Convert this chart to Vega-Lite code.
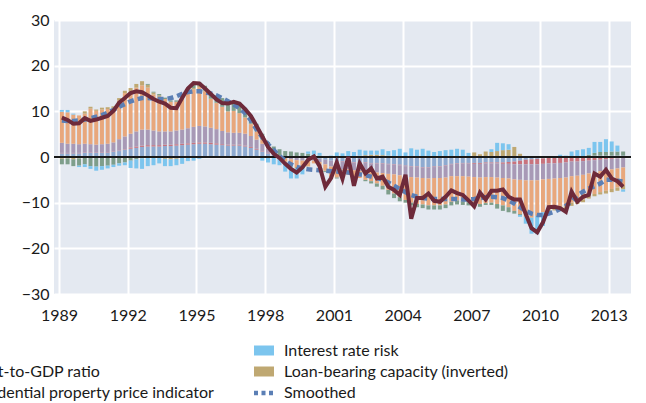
{
"$schema": "https://vega.github.io/schema/vega-lite/v6.json",
"width": 577, "height": 274,
"autosize": {"type": "none"},
"padding": {"left": 54, "top": 20, "right": 15, "bottom": 109},
"background": "white",
"config": {
  "font": "Lato",
  "view": {"fill": "#e4e9f1", "stroke": null},
  "axis": {"labelFont": "Lato", "labelFontSize": 16, "labelColor": "#1a1a1a", "grid": true, "gridColor": "#ffffff", "gridWidth": 2, "domain": false, "ticks": false}
},
"data": {"values": [
{"t":1989.125,"a1":0.8,"a2":0.1,"a3":2.2,"a4":6.8,"a5":-0.4,"a6":-1.2,"a7":0.4,"i":8.6,"s":8.0},
{"t":1989.375,"a1":0.8,"a2":0.1,"a3":2.0,"a4":6.9,"a5":-0.3,"a6":-1.3,"a7":0.5,"i":8.1,"s":7.9},
{"t":1989.625,"a1":0.8,"a2":0.1,"a3":2.0,"a4":6.4,"a5":-0.5,"a6":-1.5,"a7":0.2,"i":7.3,"s":7.9},
{"t":1989.875,"a1":0.8,"a2":0.1,"a3":1.9,"a4":6.3,"a5":-0.3,"a6":-1.6,"a7":-0.3,"i":7.4,"s":8.0},
{"t":1990.125,"a1":0.9,"a2":0.1,"a3":1.9,"a4":6.6,"a5":0.5,"a6":-1.6,"a7":-0.6,"i":8.5,"s":8.2},
{"t":1990.375,"a1":0.9,"a2":0.1,"a3":1.8,"a4":7.8,"a5":0.4,"a6":-2.0,"a7":-0.6,"i":7.9,"s":8.5},
{"t":1990.625,"a1":0.9,"a2":0.1,"a3":1.7,"a4":7.4,"a5":0.3,"a6":-2.1,"a7":-0.9,"i":8.2,"s":8.8},
{"t":1990.875,"a1":1.0,"a2":0.1,"a3":1.7,"a4":7.6,"a5":0.4,"a6":-2.0,"a7":-0.8,"i":8.6,"s":9.2},
{"t":1991.125,"a1":1.0,"a2":0.1,"a3":1.8,"a4":7.6,"a5":0.4,"a6":-1.9,"a7":-0.6,"i":9.0,"s":9.7},
{"t":1991.375,"a1":1.1,"a2":0.1,"a3":2.0,"a4":7.4,"a5":0.5,"a6":-1.7,"a7":-0.5,"i":10.1,"s":10.3},
{"t":1991.625,"a1":1.3,"a2":0.1,"a3":2.5,"a4":8.5,"a5":0.5,"a6":-1.4,"a7":-0.5,"i":11.9,"s":11.0},
{"t":1991.875,"a1":1.6,"a2":0.1,"a3":2.8,"a4":9.5,"a5":0.5,"a6":-1.2,"a7":-0.6,"i":12.9,"s":11.6},
{"t":1992.125,"a1":1.8,"a2":0.3,"a3":3.0,"a4":9.2,"a5":0.8,"a6":-0.8,"a7":-1.6,"i":14.0,"s":12.2},
{"t":1992.375,"a1":2.0,"a2":0.3,"a3":3.3,"a4":9.6,"a5":0.8,"a6":-0.5,"a7":-2.0,"i":14.4,"s":12.6},
{"t":1992.625,"a1":2.2,"a2":0.3,"a3":3.5,"a4":9.7,"a5":0.9,"a6":-0.3,"a7":-2.3,"i":14.2,"s":12.9},
{"t":1992.875,"a1":2.3,"a2":0.3,"a3":3.4,"a4":9.2,"a5":0.6,"a6":0.2,"a7":-2.0,"i":13.5,"s":12.9},
{"t":1993.125,"a1":2.3,"a2":0.3,"a3":3.2,"a4":7.9,"a5":0.4,"a6":0.2,"a7":-1.8,"i":12.7,"s":12.8},
{"t":1993.375,"a1":2.3,"a2":0.3,"a3":3.0,"a4":7.6,"a5":0.3,"a6":0.3,"a7":-1.4,"i":12.1,"s":12.7},
{"t":1993.625,"a1":2.4,"a2":0.3,"a3":2.9,"a4":7.1,"a5":-0.4,"a6":0.3,"a7":-1.6,"i":11.7,"s":12.7},
{"t":1993.875,"a1":2.4,"a2":0.3,"a3":2.9,"a4":6.5,"a5":-0.5,"a6":0.3,"a7":-1.5,"i":10.8,"s":12.9},
{"t":1994.125,"a1":2.5,"a2":0.3,"a3":3.0,"a4":6.3,"a5":-0.4,"a6":0.3,"a7":-1.4,"i":10.7,"s":13.3},
{"t":1994.375,"a1":2.6,"a2":0.3,"a3":3.1,"a4":7.0,"a5":-0.2,"a6":0.4,"a7":-1.3,"i":12.9,"s":13.8},
{"t":1994.625,"a1":2.7,"a2":0.3,"a3":3.3,"a4":7.8,"a5":0.2,"a6":0.6,"a7":-0.9,"i":15.0,"s":14.2},
{"t":1994.875,"a1":2.8,"a2":0.3,"a3":3.5,"a4":8.2,"a5":0.3,"a6":0.7,"a7":-0.8,"i":16.2,"s":14.4},
{"t":1995.125,"a1":2.9,"a2":0.3,"a3":3.6,"a4":8.5,"a5":0.3,"a6":0.8,"a7":-0.4,"i":16.1,"s":14.4},
{"t":1995.375,"a1":2.9,"a2":0.3,"a3":3.5,"a4":7.7,"a5":0.2,"a6":1.0,"a7":-0.2,"i":15.0,"s":14.2},
{"t":1995.625,"a1":2.8,"a2":0.3,"a3":3.3,"a4":6.3,"a5":0.1,"a6":1.2,"a7":-0.1,"i":13.8,"s":13.9},
{"t":1995.875,"a1":2.7,"a2":0.3,"a3":3.1,"a4":5.7,"a5":0.1,"a6":1.6,"a7":-0.2,"i":12.6,"s":13.5},
{"t":1996.125,"a1":2.6,"a2":0.2,"a3":2.9,"a4":5.3,"a5":-0.1,"a6":1.9,"a7":-0.1,"i":11.8,"s":12.9},
{"t":1996.375,"a1":2.5,"a2":0.2,"a3":2.7,"a4":4.6,"a5":-0.1,"a6":2.2,"a7":-0.1,"i":11.7,"s":12.2},
{"t":1996.625,"a1":2.5,"a2":0.2,"a3":2.6,"a4":4.8,"a5":-0.1,"a6":2.0,"a7":-0.1,"i":12.1,"s":11.5},
{"t":1996.875,"a1":2.5,"a2":0.2,"a3":2.6,"a4":4.3,"a5":-0.1,"a6":2.3,"a7":-0.1,"i":11.7,"s":10.7},
{"t":1997.125,"a1":2.3,"a2":0.2,"a3":2.6,"a4":3.5,"a5":0.1,"a6":2.0,"a7":0.1,"i":10.5,"s":9.6},
{"t":1997.375,"a1":2.0,"a2":0.2,"a3":2.4,"a4":2.6,"a5":0.1,"a6":1.8,"a7":0.1,"i":9.0,"s":8.0},
{"t":1997.625,"a1":1.6,"a2":0.2,"a3":2.0,"a4":1.8,"a5":0.1,"a6":1.5,"a7":0.1,"i":6.8,"s":6.0},
{"t":1997.875,"a1":1.2,"a2":0.1,"a3":1.6,"a4":1.0,"a5":0,"a6":1.2,"a7":-0.8,"i":4.5,"s":4.3},
{"t":1998.125,"a1":0.8,"a2":0.1,"a3":1.0,"a4":0.4,"a5":0,"a6":1.0,"a7":-1.2,"i":2.2,"s":2.8},
{"t":1998.375,"a1":0.5,"a2":0,"a3":0.5,"a4":0.1,"a5":0,"a6":1.2,"a7":-1.6,"i":0.7,"s":1.5},
{"t":1998.625,"a1":0.2,"a2":0,"a3":0.1,"a4":-0.3,"a5":0,"a6":1.4,"a7":-1.5,"i":-0.2,"s":0.2},
{"t":1998.875,"a1":0,"a2":0,"a3":-0.2,"a4":-0.8,"a5":-0.2,"a6":1.3,"a7":-2.0,"i":-1.5,"s":-0.8},
{"t":1999.125,"a1":-0.1,"a2":0,"a3":-0.4,"a4":-1.3,"a5":-0.3,"a6":1.2,"a7":-2.6,"i":-2.6,"s":-1.6},
{"t":1999.375,"a1":-0.2,"a2":0,"a3":-0.5,"a4":-1.5,"a5":-0.3,"a6":1.0,"a7":-2.2,"i":-3.4,"s":-2.2},
{"t":1999.625,"a1":-0.2,"a2":0,"a3":-0.6,"a4":-1.5,"a5":-0.2,"a6":0.9,"a7":-1.3,"i":-2.3,"s":-2.5},
{"t":1999.875,"a1":-0.2,"a2":0,"a3":-0.6,"a4":-1.2,"a5":-0.1,"a6":0.7,"a7":0.5,"i":-0.6,"s":-2.7},
{"t":2000.125,"a1":-0.3,"a2":0,"a3":-0.5,"a4":-0.6,"a5":0,"a6":0.5,"a7":0.9,"i":0.1,"s":-2.8},
{"t":2000.375,"a1":-0.4,"a2":0,"a3":-0.7,"a4":-0.8,"a5":0,"a6":0.3,"a7":0.6,"i":-2.0,"s":-2.9},
{"t":2000.625,"a1":-0.6,"a2":0,"a3":-1.0,"a4":-1.4,"a5":-0.1,"a6":-0.2,"a7":0.2,"i":-6.5,"s":-3.0},
{"t":2000.875,"a1":-0.8,"a2":0,"a3":-1.3,"a4":-2.3,"a5":-0.1,"a6":-0.3,"a7":0.3,"i":-4.6,"s":-3.1},
{"t":2001.125,"a1":-0.9,"a2":-0.1,"a3":-1.5,"a4":-2.0,"a5":0,"a6":-0.2,"a7":1.0,"i":-1.2,"s":-3.2},
{"t":2001.375,"a1":-1.0,"a2":-0.1,"a3":-1.6,"a4":-1.5,"a5":0,"a6":0,"a7":0.8,"i":-4.8,"s":-3.3},
{"t":2001.625,"a1":-1.0,"a2":-0.1,"a3":-1.6,"a4":-1.2,"a5":0.1,"a6":0,"a7":1.2,"i":0.0,"s":-3.4},
{"t":2001.875,"a1":-1.1,"a2":-0.1,"a3":-1.7,"a4":-1.6,"a5":0.2,"a6":0,"a7":0.9,"i":-6.3,"s":-3.6},
{"t":2002.125,"a1":-1.2,"a2":-0.1,"a3":-1.8,"a4":-1.5,"a5":0.3,"a6":0,"a7":1.3,"i":-1.4,"s":-3.8},
{"t":2002.375,"a1":-1.2,"a2":-0.1,"a3":-1.9,"a4":-1.8,"a5":0.4,"a6":-0.3,"a7":1.0,"i":-3.6,"s":-4.0},
{"t":2002.625,"a1":-1.3,"a2":-0.1,"a3":-1.9,"a4":-2.0,"a5":0.5,"a6":-0.5,"a7":0.9,"i":-2.5,"s":-4.3},
{"t":2002.875,"a1":-1.3,"a2":-0.1,"a3":-2.0,"a4":-2.4,"a5":0.5,"a6":-0.7,"a7":0.9,"i":-4.7,"s":-4.6},
{"t":2003.125,"a1":-1.4,"a2":-0.1,"a3":-2.0,"a4":-2.8,"a5":0.4,"a6":-0.8,"a7":1.3,"i":-4.3,"s":-5.0},
{"t":2003.375,"a1":-1.5,"a2":-0.1,"a3":-2.1,"a4":-3.5,"a5":0.3,"a6":-1.0,"a7":1.0,"i":-6.5,"s":-5.6},
{"t":2003.625,"a1":-1.6,"a2":-0.1,"a3":-2.1,"a4":-4.2,"a5":0.2,"a6":-1.0,"a7":1.3,"i":-7.2,"s":-6.3},
{"t":2003.875,"a1":-1.7,"a2":-0.1,"a3":-2.2,"a4":-4.8,"a5":0.1,"a6":-0.9,"a7":1.7,"i":-8.3,"s":-7.0},
{"t":2004.125,"a1":-1.9,"a2":-0.1,"a3":-2.2,"a4":-5.2,"a5":0,"a6":-0.6,"a7":1.0,"i":-3.9,"s":-7.7},
{"t":2004.375,"a1":-2.0,"a2":-0.1,"a3":-2.3,"a4":-5.6,"a5":0,"a6":-0.6,"a7":1.9,"i":-13.5,"s":-8.3},
{"t":2004.625,"a1":-2.1,"a2":-0.1,"a3":-2.3,"a4":-5.8,"a5":0,"a6":-0.7,"a7":1.6,"i":-9.0,"s":-8.7},
{"t":2004.875,"a1":-2.2,"a2":-0.1,"a3":-2.3,"a4":-5.8,"a5":0,"a6":-0.8,"a7":1.8,"i":-9.0,"s":-9.0},
{"t":2005.125,"a1":-2.2,"a2":-0.1,"a3":-2.4,"a4":-5.9,"a5":0,"a6":-0.9,"a7":1.4,"i":-8.0,"s":-9.1},
{"t":2005.375,"a1":-2.1,"a2":-0.1,"a3":-2.4,"a4":-6.0,"a5":0,"a6":-0.9,"a7":1.1,"i":-9.6,"s":-9.2},
{"t":2005.625,"a1":-2.0,"a2":-0.1,"a3":-2.5,"a4":-6.0,"a5":0,"a6":-0.9,"a7":1.3,"i":-9.8,"s":-9.2},
{"t":2005.875,"a1":-1.8,"a2":-0.1,"a3":-2.6,"a4":-5.9,"a5":0,"a6":-0.8,"a7":1.5,"i":-8.7,"s":-9.2},
{"t":2006.125,"a1":-1.5,"a2":-0.1,"a3":-2.6,"a4":-5.6,"a5":0,"a6":-0.8,"a7":1.6,"i":-7.3,"s":-9.2},
{"t":2006.375,"a1":-1.4,"a2":-0.1,"a3":-2.7,"a4":-5.3,"a5":0,"a6":-0.9,"a7":1.8,"i":-7.9,"s":-9.2},
{"t":2006.625,"a1":-1.3,"a2":-0.1,"a3":-2.8,"a4":-5.5,"a5":0,"a6":-0.8,"a7":1.6,"i":-8.3,"s":-9.3},
{"t":2006.875,"a1":-1.3,"a2":-0.1,"a3":-2.9,"a4":-5.6,"a5":0,"a6":-0.7,"a7":0.9,"i":-9.5,"s":-9.3},
{"t":2007.125,"a1":-1.3,"a2":-0.2,"a3":-2.9,"a4":-5.5,"a5":1.0,"a6":-0.8,"a7":0,"i":-10.8,"s":-9.2},
{"t":2007.375,"a1":-1.3,"a2":-0.2,"a3":-3.0,"a4":-5.8,"a5":0.6,"a6":-0.6,"a7":0,"i":-7.8,"s":-9.0},
{"t":2007.625,"a1":-1.2,"a2":-0.2,"a3":-3.0,"a4":-5.7,"a5":1.2,"a6":-0.4,"a7":0,"i":-9.3,"s":-8.8},
{"t":2007.875,"a1":-1.2,"a2":-0.2,"a3":-3.0,"a4":-5.6,"a5":1.1,"a6":-0.5,"a7":0.6,"i":-7.4,"s":-8.7},
{"t":2008.125,"a1":-1.2,"a2":-0.2,"a3":-3.1,"a4":-5.8,"a5":1.3,"a6":-1.0,"a7":1.8,"i":-7.4,"s":-8.8},
{"t":2008.375,"a1":-1.2,"a2":-0.3,"a3":-3.1,"a4":-6.0,"a5":1.5,"a6":-1.2,"a7":1.5,"i":-7.1,"s":-9.0},
{"t":2008.625,"a1":-1.1,"a2":-0.4,"a3":-3.2,"a4":-6.3,"a5":1.6,"a6":-1.1,"a7":1.2,"i":-8.7,"s":-9.5},
{"t":2008.875,"a1":-1.0,"a2":-0.6,"a3":-3.3,"a4":-6.9,"a5":2.2,"a6":-0.6,"a7":0,"i":-9.3,"s":-10.2},
{"t":2009.125,"a1":-0.8,"a2":-0.8,"a3":-3.4,"a4":-7.5,"a5":0.7,"a6":-0.2,"a7":-0.4,"i":-9.3,"s":-11.0},
{"t":2009.375,"a1":-0.6,"a2":-1.0,"a3":-3.5,"a4":-8.0,"a5":0,"a6":0,"a7":-1.5,"i":-12.5,"s":-11.8},
{"t":2009.625,"a1":-0.5,"a2":-1.1,"a3":-3.5,"a4":-8.2,"a5":0,"a6":0,"a7":-3.5,"i":-15.6,"s":-12.4},
{"t":2009.875,"a1":-0.4,"a2":-1.2,"a3":-3.5,"a4":-7.8,"a5":0,"a6":0,"a7":-4.0,"i":-16.5,"s":-12.7},
{"t":2010.125,"a1":-0.3,"a2":-1.2,"a3":-3.4,"a4":-7.2,"a5":0,"a6":0,"a7":-3.0,"i":-14.3,"s":-12.7},
{"t":2010.375,"a1":-0.2,"a2":-1.2,"a3":-3.4,"a4":-6.8,"a5":-0.3,"a6":0,"a7":-0.6,"i":-11.0,"s":-12.4},
{"t":2010.625,"a1":-0.2,"a2":-1.2,"a3":-3.3,"a4":-6.6,"a5":-0.4,"a6":0,"a7":0.2,"i":-10.9,"s":-12.0},
{"t":2010.875,"a1":-0.1,"a2":-1.2,"a3":-3.3,"a4":-6.5,"a5":-0.5,"a6":0,"a7":0.5,"i":-11.2,"s":-11.4},
{"t":2011.125,"a1":-0.1,"a2":-1.1,"a3":-3.3,"a4":-6.3,"a5":-0.6,"a6":0,"a7":0.3,"i":-12.0,"s":-10.7},
{"t":2011.375,"a1":0,"a2":-1.0,"a3":-3.2,"a4":-5.8,"a5":-0.7,"a6":0,"a7":1.2,"i":-7.6,"s":-9.8},
{"t":2011.625,"a1":0,"a2":-1.0,"a3":-3.1,"a4":-5.6,"a5":-0.6,"a6":0,"a7":1.5,"i":-9.8,"s":-8.4},
{"t":2011.875,"a1":0.1,"a2":-0.9,"a3":-3.0,"a4":-5.4,"a5":-0.6,"a6":0,"a7":1.6,"i":-8.7,"s":-7.6},
{"t":2012.125,"a1":0.2,"a2":-0.8,"a3":-2.8,"a4":-5.0,"a5":-0.5,"a6":0.3,"a7":1.5,"i":-8.3,"s":-6.9},
{"t":2012.375,"a1":0.3,"a2":-0.7,"a3":-2.6,"a4":-4.8,"a5":-0.5,"a6":0.6,"a7":2.4,"i":-3.6,"s":-6.4},
{"t":2012.625,"a1":0.3,"a2":-0.6,"a3":-2.5,"a4":-4.6,"a5":-0.5,"a6":0.8,"a7":2.2,"i":-4.3,"s":-5.8},
{"t":2012.875,"a1":0.3,"a2":-0.5,"a3":-2.4,"a4":-4.5,"a5":-0.6,"a6":0.8,"a7":2.8,"i":-2.8,"s":-5.0},
{"t":2013.125,"a1":0.3,"a2":-0.4,"a3":-2.3,"a4":-4.3,"a5":-0.7,"a6":0.9,"a7":2.2,"i":-4.7,"s":-5.0},
{"t":2013.375,"a1":0.3,"a2":-0.3,"a3":-2.2,"a4":-4.2,"a5":-0.7,"a6":0.9,"a7":1.3,"i":-5.3,"s":-5.2},
{"t":2013.625,"a1":0.3,"a2":-0.2,"a3":-2.1,"a4":-4.0,"a5":-0.8,"a6":0.9,"a7":-0.5,"i":-6.5,"s":-5.4}
]},
"layer": [
  {
    "transform": [{"fold": ["a1","a2","a3","a4","a5","a6","a7"], "as": ["k","v"]}],
    "mark": {"type": "bar", "size": 4},
    "encoding": {
      "x": {"field": "t", "type": "quantitative", "title": null,
            "scale": {"domain": [1989, 2013.75], "nice": false, "zero": false},
            "axis": {"values": [1989,1992,1995,1998,2001,2004,2007,2010,2013], "format": "d", "labelPadding": 13}},
      "y": {"field": "v", "type": "quantitative", "stack": "zero", "title": null,
            "scale": {"domain": [-30, 30], "nice": false},
            "axis": {"values": [-30,-20,-10,0,10,20,30], "labelPadding": 5}},
      "color": {"field": "k", "type": "nominal",
        "scale": {"domain": ["a1","a2","a6","z0","a3","a4","a7","a5","sm"],
                  "range": ["#8eaad0","#c9737d","#7e9e8b","rgba(0,0,0,0)","#a899b6","#e8a77c","#7cc5ee","#bfa872","#5b7fb5"]},
        "legend": {
          "orient": "none", "legendX": -429, "legendY": 322, "title": null,
          "columns": 3, "gridAlign": "all", "columnPadding": 30.5, "rowPadding": 3.5,
          "padding": 0,
          "symbolSize": 400, "symbolType": "M-1,-0.5H1V0.5H-1Z", "symbolStrokeWidth": 0,
          "labelFont": "Lato", "labelFontSize": 16, "labelColor": "#1a1a1a", "labelOffset": 12, "labelLimit": 400,
          "labelExpr": "datum.value=='a1'?'Credit growth':datum.value=='a2'?'Equity prices':datum.value=='a3'?'Debt-to-GDP ratio':datum.value=='a4'?'Residential property price indicator':datum.value=='a5'?'Loan-bearing capacity (inverted)':datum.value=='a6'?'Bank funding':datum.value=='a7'?'Interest rate risk':datum.value=='sm'?'Smoothed':''",
          "encode": {"symbols": {"update": {
            "shape": {"signal": "datum.value==='sm' ? 'stroke' : 'M-1,-0.5H1V0.5H-1Z'"},
            "stroke": {"signal": "datum.value==='sm' ? '#5b7fb5' : 'transparent'"},
            "strokeWidth": {"signal": "datum.value==='sm' ? 4.5 : 0"},
            "strokeDash": {"signal": "datum.value==='sm' ? [4,3.5] : [1,0]"},
            "opacity": {"value": 1}
          }}}
        }},
      "order": {"field": "k", "sort": "ascending"}
    }
  },
  {
    "mark": {"type": "rule", "color": "#1a1a1a", "strokeWidth": 1.6},
    "encoding": {"y": {"datum": 0}}
  },
  {
    "mark": {"type": "line", "color": "#5b7fb5", "strokeWidth": 4.5, "strokeDash": [6, 4]},
    "encoding": {
      "x": {"field": "t", "type": "quantitative", "title": null},
      "y": {"field": "s", "type": "quantitative", "title": null}
    }
  },
  {
    "mark": {"type": "line", "color": "#6e2a3a", "strokeWidth": 4},
    "encoding": {
      "x": {"field": "t", "type": "quantitative", "title": null},
      "y": {"field": "i", "type": "quantitative", "title": null}
    }
  }
]
}
